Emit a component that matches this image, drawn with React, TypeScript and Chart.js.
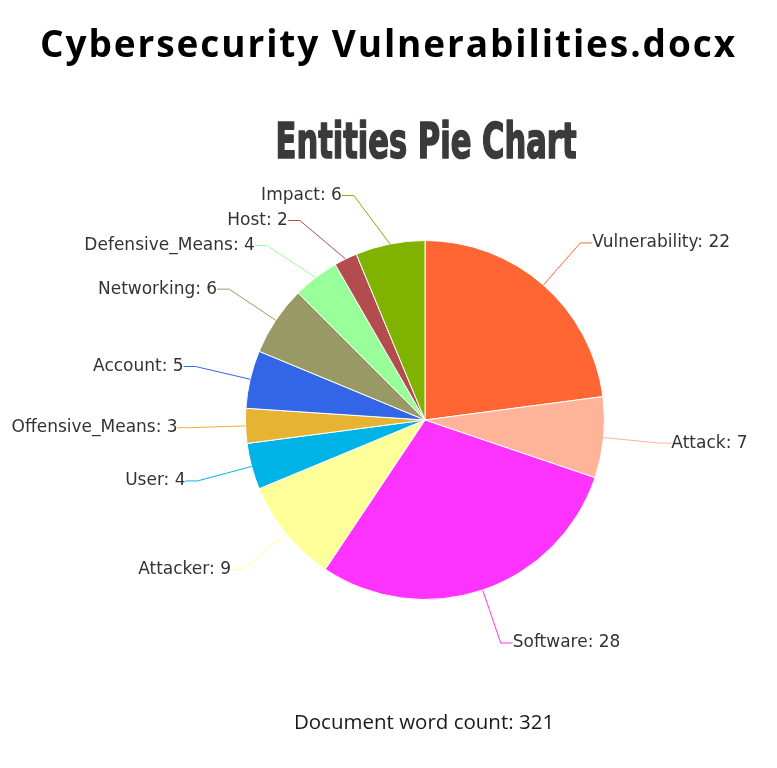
import React, { useEffect, useRef } from "react";
import { Chart, registerables } from "chart.js";

Chart.register(...registerables);

const docTitle = "Cybersecurity Vulnerabilities.docx";
const chartTitle = "Entities Pie Chart";
const wordCount = 321;

const entityLabels = [
  "Vulnerability",
  "Attack",
  "Software",
  "Attacker",
  "User",
  "Offensive_Means",
  "Account",
  "Networking",
  "Defensive_Means",
  "Host",
  "Impact",
];
const entityCounts = [22, 7, 28, 9, 4, 3, 5, 6, 4, 2, 6];
const sliceColors = [
  "#FF6633",
  "#FFB399",
  "#FF33FF",
  "#FFFF99",
  "#00B3E6",
  "#E6B333",
  "#3366E6",
  "#999966",
  "#99FF99",
  "#B34D4D",
  "#80B300",
];

const CANVAS_W = 761;
const CANVAS_H = 752;

const titlePlugin = {
  id: "customTitle",
  afterDraw(chart: any) {
    const meta = chart.getDatasetMeta(0);
    const arc = meta.data[0];
    if (!arc) return;
    const ctx = chart.ctx;
    ctx.save();
    const size = 49;
    ctx.font = `bold ${size}px 'Liberation Sans Narrow', 'DejaVu Sans Condensed', 'Liberation Sans', sans-serif`;
    const w = ctx.measureText(chartTitle).width;
    const targetW = 301;
    const sx = targetW / w;
    ctx.fillStyle = "#3a3a3a";
    ctx.strokeStyle = "#3a3a3a";
    ctx.lineWidth = 1.6;
    ctx.lineJoin = "round";
    ctx.textBaseline = "alphabetic";
    ctx.textAlign = "center";
    ctx.translate(arc.x + 1, 150);
    ctx.scale(sx, 1);
    ctx.fillText(chartTitle, 0, 0);
    ctx.strokeText(chartTitle, 0, 0);
    ctx.restore();
  },
};

const labelPlugin = {
  id: "outLabels",
  afterDatasetsDraw(chart: any) {
    const meta = chart.getDatasetMeta(0);
    const ctx = chart.ctx;
    const items: any[] = [];
    meta.data.forEach((arc: any, i: number) => {
      const { x, y, startAngle, endAngle, outerRadius } = arc.getProps(
        ["x", "y", "startAngle", "endAngle", "outerRadius"],
        true
      );
      const a = (startAngle + endAngle) / 2;
      const R = outerRadius + 56;
      items.push({
        i,
        cx: x,
        cy: y,
        r: outerRadius,
        R,
        a,
        px: x + Math.cos(a) * outerRadius,
        py: y + Math.sin(a) * outerRadius,
        ey: y + Math.sin(a) * R,
        right: Math.cos(a) >= 0,
      });
    });
    const gap = 25;
    [true, false].forEach((side) => {
      const list = items.filter((it) => it.right === side).sort((p, q) => p.ey - q.ey);
      let prev = -Infinity;
      list.forEach((it) => {
        const minY = it.cy - it.r - 45;
        const yy = Math.max(it.ey, minY, prev + gap);
        it.ey = yy;
        prev = yy;
      });
    });
    ctx.save();
    ctx.font = "17px 'DejaVu Sans', sans-serif";
    ctx.textBaseline = "middle";
    items.forEach((it) => {
      const dy = it.ey - it.cy;
      const dx = Math.sqrt(Math.max(it.R * it.R - dy * dy, 0));
      const ex = it.right ? it.cx + dx : it.cx - dx;
      const hx = it.right ? ex + 12 : ex - 12;
      ctx.strokeStyle = sliceColors[it.i];
      ctx.lineWidth = 1;
      ctx.beginPath();
      ctx.moveTo(it.px, it.py);
      ctx.lineTo(ex, it.ey);
      ctx.lineTo(hx, it.ey);
      ctx.stroke();
      ctx.fillStyle = "#333333";
      ctx.textAlign = it.right ? "left" : "right";
      ctx.fillText(`${entityLabels[it.i]}: ${entityCounts[it.i]}`, hx, it.ey);
    });
    ctx.restore();
  },
};

export default function App() {
  const canvasRef = useRef<HTMLCanvasElement | null>(null);

  useEffect(() => {
    if (!canvasRef.current) return;
    const chart = new Chart(canvasRef.current, {
      type: "pie",
      data: {
        labels: entityLabels,
        datasets: [
          {
            data: entityCounts,
            backgroundColor: sliceColors,
            borderColor: "#ffffff",
            borderWidth: 1,
            hoverOffset: 0,
          },
        ],
      },
      options: {
        responsive: false,
        animation: false,
        layout: {
          padding: { left: 237, right: 164, top: 232, bottom: 160 },
        },
        plugins: {
          legend: { display: false },
          title: { display: false },
          tooltip: { enabled: false },
        },
      },
      plugins: [labelPlugin, titlePlugin],
    });
    return () => chart.destroy();
  }, []);

  return (
    <div style={{ position: "relative", width: CANVAS_W, height: CANVAS_H }}>
      <canvas
        ref={canvasRef}
        width={CANVAS_W}
        height={CANVAS_H}
        style={{ position: "absolute", left: 0, top: 0, width: CANVAS_W, height: CANVAS_H }}
      />
      <h1
        style={{
          position: "absolute",
          left: 0,
          top: 15,
          width: CANVAS_W,
          margin: 0,
          textAlign: "center",
          fontFamily: "'Open Sans', 'Noto Sans', sans-serif",
          fontWeight: 700,
          fontSize: 37,
          letterSpacing: "1.9px",
          lineHeight: "40px",
          color: "#000",
          whiteSpace: "nowrap",
        }}
      >
        {docTitle}
      </h1>
      <div
        style={{
          position: "absolute",
          left: 416,
          top: 701,
          transform: "translateX(-50%)",
          fontFamily: "'Open Sans', 'Noto Sans', sans-serif",
          fontSize: 20.5,
          lineHeight: "24px",
          color: "#1a1a1a",
          whiteSpace: "nowrap",
        }}
      >
        Document word count: {wordCount}
      </div>
    </div>
  );
}
